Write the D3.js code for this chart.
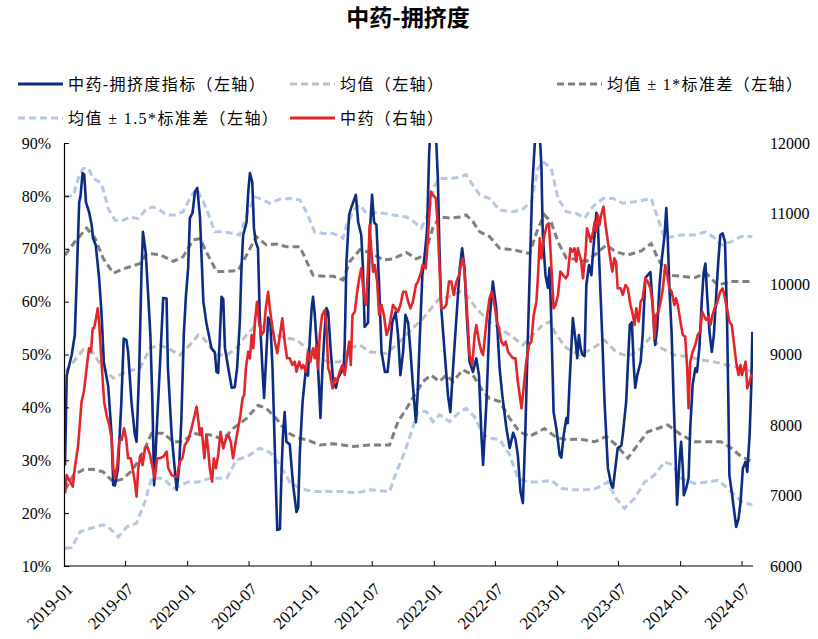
<!DOCTYPE html>
<html><head><meta charset="utf-8">
<script src="https://cdn.jsdelivr.net/npm/d3@7"></script>
<style>
body{margin:0;background:#fff;}
svg{display:block;font-family:"Liberation Serif","Noto Sans CJK SC",serif;}
</style></head><body>
<svg id="chart" width="818" height="639"></svg>
<script>
const chartTitle = "中药-拥挤度";
const legendLabels = ["中药-拥挤度指标（左轴）","均值（左轴）","均值 ± 1*标准差（左轴）","均值 ± 1.5*标准差（左轴）","中药（右轴）"];
const xTickLabels = ["2019-01","2019-07","2020-01","2020-07","2021-01","2021-07","2022-01","2022-07","2023-01","2023-07","2024-01","2024-07"];
const leftTicks = [10,20,30,40,50,60,70,80,90];
const rightTicks = [6000,7000,8000,9000,10000,11000,12000];

const crowding = [["2019-01-04",29],["2019-01-09",46],["2019-01-24",50],["2019-02-02",53.7],["2019-02-07",63],["2019-02-15",78.8],["2019-02-19",80],["2019-02-25",84.3],["2019-03-02",84],["2019-03-07",78.8],["2019-03-16",77],["2019-03-24",74.5],["2019-03-28",72],["2019-04-05",70.7],["2019-04-15",64.5],["2019-04-22",58],["2019-04-29",48.6],["2019-05-12",44],["2019-05-22",34.8],["2019-05-27",25.3],["2019-06-01",25.2],["2019-06-10",28.5],["2019-06-20",41],["2019-06-27",53],["2019-07-05",52.7],["2019-07-10",50.5],["2019-07-20",41],["2019-07-30",34.8],["2019-08-04",33.5],["2019-08-12",47.5],["2019-08-19",66.4],["2019-08-23",73.2],["2019-08-31",69.4],["2019-09-07",61.8],["2019-09-14",53.7],["2019-09-20",41],["2019-09-25",25.3],["2019-10-02",34.8],["2019-10-12",47.5],["2019-10-22",60.7],["2019-11-01",60.6],["2019-11-05",47.5],["2019-11-16",34.8],["2019-11-25",28.5],["2019-12-01",24.4],["2019-12-08",28.5],["2019-12-15",38],["2019-12-22",53.7],["2019-12-28",60.7],["2020-01-04",66.4],["2020-01-09",75.8],["2020-01-17",76.8],["2020-01-24",80.7],["2020-01-31",81.5],["2020-02-08",76],["2020-02-18",60],["2020-02-27",56],["2020-03-13",51.2],["2020-03-23",50.4],["2020-03-28",46.7],["2020-04-02",46.5],["2020-04-07",53.7],["2020-04-12",60.9],["2020-04-17",60.5],["2020-04-22",51.2],["2020-05-02",47.4],["2020-05-12",43.7],["2020-05-21",43.8],["2020-05-28",47.4],["2020-06-05",56],["2020-06-10",66.4],["2020-06-15",72.6],["2020-06-25",75],["2020-06-30",80.7],["2020-07-05",84.3],["2020-07-12",82.6],["2020-07-17",73.9],["2020-07-22",71.3],["2020-07-29",70.1],["2020-08-03",57.5],["2020-08-10",48.6],["2020-08-16",41.8],["2020-08-23",50.5],["2020-08-28",57],["2020-09-04",55.6],["2020-09-10",47.4],["2020-09-17",31.6],["2020-09-24",16.8],["2020-10-02",17],["2020-10-07",28.5],["2020-10-11",34.8],["2020-10-16",39.1],["2020-10-21",33.5],["2020-10-31",33],["2020-11-10",25.3],["2020-11-20",20.2],["2020-11-25",21],["2020-11-30",31.6],["2020-12-08",41],["2020-12-18",47.4],["2020-12-24",46],["2020-12-29",52.4],["2021-01-04",58.8],["2021-01-08",60.9],["2021-01-13",57.7],["2021-01-20",51],["2021-01-26",43.7],["2021-01-30",38],["2021-02-05",47.4],["2021-02-12",55],["2021-02-17",58.8],["2021-02-22",58],["2021-03-01",51.2],["2021-03-09",44.8],["2021-03-17",43.7],["2021-03-23",45.5],["2021-04-02",46.7],["2021-04-09",47.5],["2021-04-12",52],["2021-04-17",67.5],["2021-04-25",76.4],["2021-05-02",77.9],["2021-05-15",80.2],["2021-05-22",75],["2021-05-31",72.6],["2021-06-05",66.4],["2021-06-10",55.2],["2021-06-20",56],["2021-06-25",72.6],["2021-07-02",80.2],["2021-07-08",75],["2021-07-15",74.5],["2021-07-23",63.1],["2021-07-30",50.5],["2021-08-09",46.7],["2021-08-17",46.7],["2021-08-23",50.5],["2021-08-31",56.1],["2021-09-10",58],["2021-09-17",53.7],["2021-09-24",46.1],["2021-10-02",50.5],["2021-10-09",57.5],["2021-10-17",56],["2021-10-24",50.5],["2021-10-31",44.2],["2021-11-09",37.2],["2021-11-14",42.5],["2021-11-20",52.4],["2021-11-28",65],["2021-12-05",68.8],["2021-12-12",73.5],["2021-12-18",87.7],["2021-12-22",93],["2021-12-27",95],["2022-01-07",92],["2022-01-13",83.4],["2022-01-18",69.4],["2022-01-23",58.8],["2022-02-02",50.5],["2022-02-12",42.3],["2022-02-19",39.1],["2022-02-27",47.4],["2022-03-09",56.9],["2022-03-19",66.4],["2022-03-26",70.1],["2022-04-02",66.4],["2022-04-09",56.9],["2022-04-17",48.6],["2022-04-27",46.7],["2022-05-07",49.3],["2022-05-15",46],["2022-05-22",34.8],["2022-05-27",29.1],["2022-06-06",41],["2022-06-15",56.2],["2022-06-25",63.8],["2022-07-05",58.8],["2022-07-15",47.4],["2022-07-23",42.3],["2022-08-04",36.1],["2022-08-14",32.3],["2022-08-24",35.2],["2022-08-31",34],["2022-09-07",31],["2022-09-15",24],["2022-09-22",21.9],["2022-09-29",34.8],["2022-10-07",53.7],["2022-10-14",69.4],["2022-10-20",82],["2022-10-27",89.6],["2022-11-01",93],["2022-11-06",94],["2022-11-11",92],["2022-11-16",85.3],["2022-11-20",72.6],["2022-11-28",65],["2022-12-05",62.6],["2022-12-10",66.4],["2022-12-15",56.9],["2022-12-22",39.1],["2022-12-30",36.1],["2023-01-09",31],["2023-01-14",30.5],["2023-01-21",34.8],["2023-01-29",38],["2023-02-02",37],["2023-02-07",44.2],["2023-02-17",56.9],["2023-02-25",52.7],["2023-03-02",49.3],["2023-03-07",53.7],["2023-03-12",51.2],["2023-03-17",50],["2023-03-24",49.7],["2023-03-29",63.1],["2023-04-06",66.9],["2023-04-13",65],["2023-04-18",69.4],["2023-04-28",76.8],["2023-05-02",75.5],["2023-05-07",66.4],["2023-05-15",53.7],["2023-05-22",41],["2023-06-01",28.5],["2023-06-11",25.3],["2023-06-16",24.8],["2023-06-23",28.5],["2023-06-30",32.3],["2023-07-11",32.8],["2023-07-15",34.8],["2023-07-25",41],["2023-08-01",50.5],["2023-08-05",55.6],["2023-08-11",56.1],["2023-08-17",47.4],["2023-08-21",43.7],["2023-08-27",46.1],["2023-09-06",48.6],["2023-09-12",53.7],["2023-09-20",64.5],["2023-09-27",65],["2023-10-05",65.6],["2023-10-12",58.8],["2023-10-19",51.8],["2023-10-25",55],["2023-11-01",63.1],["2023-11-08",68.2],["2023-11-16",72.6],["2023-11-21",77.7],["2023-11-25",72.6],["2023-11-30",63.1],["2023-12-07",53.7],["2023-12-13",41],["2023-12-18",31.6],["2023-12-23",21.6],["2023-12-30",29.7],["2024-01-04",33.5],["2024-01-09",28.5],["2024-01-12",23.4],["2024-01-19",24.7],["2024-01-26",26.6],["2024-01-31",36.1],["2024-02-07",44.2],["2024-02-15",47.4],["2024-02-20",46.7],["2024-02-27",51.2],["2024-03-05",60],["2024-03-11",65.6],["2024-03-16",67.2],["2024-03-21",61.2],["2024-03-28",54.3],["2024-04-04",50.5],["2024-04-10",53.7],["2024-04-17",61.2],["2024-04-23",67.5],["2024-04-29",72.6],["2024-05-06",72.9],["2024-05-13",71.3],["2024-05-19",56.9],["2024-05-23",41],["2024-05-26",27.2],["2024-06-02",24],["2024-06-08",21],["2024-06-15",17.4],["2024-06-22",18.9],["2024-06-28",22],["2024-07-05",28.5],["2024-07-13",29.7],["2024-07-18",27.8],["2024-07-25",34.8],["2024-07-30",44.2],["2024-08-02",54.3]];

const price = [["2019-01-04",7031],["2019-01-09",7291],["2019-01-19",7196],["2019-01-27",7125],["2019-02-02",7386],["2019-02-12",7716],["2019-02-22",8331],["2019-03-01",8472],["2019-03-09",8804],["2019-03-16",9088],["2019-03-22",9040],["2019-03-27",9372],["2019-03-31",9372],["2019-04-06",9513],["2019-04-11",9655],["2019-04-15",9466],["2019-04-22",8898],["2019-04-30",8331],["2019-05-07",8142],["2019-05-15",8000],["2019-05-22",7811],["2019-05-27",7386],["2019-06-01",7244],["2019-06-08",7433],["2019-06-14",7787],["2019-06-21",7787],["2019-06-28",7953],["2019-07-04",7811],["2019-07-10",7528],["2019-07-18",7528],["2019-07-23",7386],["2019-07-30",7196],["2019-08-04",6983],["2019-08-09",7386],["2019-08-16",7575],["2019-08-22",7433],["2019-08-29",7669],["2019-09-05",7693],["2019-09-13",7575],["2019-09-21",7386],["2019-09-27",7244],["2019-10-04",7528],["2019-10-12",7528],["2019-10-22",7551],["2019-11-01",7622],["2019-11-06",7386],["2019-11-16",7291],["2019-11-26",7267],["2019-12-02",7267],["2019-12-10",7480],["2019-12-18",7528],["2019-12-25",7716],["2020-01-04",7787],["2020-01-14",7953],["2020-01-21",8095],["2020-01-29",8260],["2020-02-03",8071],["2020-02-08",7858],["2020-02-13",7953],["2020-02-21",7528],["2020-02-27",7858],["2020-03-03",7669],["2020-03-08",7386],["2020-03-15",7196],["2020-03-20",7528],["2020-03-26",7386],["2020-04-02",7575],["2020-04-09",7905],["2020-04-17",7669],["2020-04-25",7811],["2020-05-02",7858],["2020-05-09",7764],["2020-05-16",7528],["2020-05-24",7764],["2020-05-31",7953],["2020-06-07",8142],["2020-06-13",8379],["2020-06-18",8426],["2020-06-23",8804],["2020-06-30",9040],["2020-07-05",8946],["2020-07-10",9277],["2020-07-15",9088],["2020-07-20",9466],["2020-07-26",9749],["2020-08-01",9466],["2020-08-08",9277],["2020-08-15",9324],["2020-08-21",9655],["2020-08-28",9891],["2020-09-02",9655],["2020-09-10",9372],["2020-09-17",9182],["2020-09-24",9017],["2020-10-02",9277],["2020-10-09",9513],["2020-10-16",9182],["2020-10-23",8946],["2020-10-31",8946],["2020-11-08",8851],["2020-11-15",8898],["2020-11-20",8756],["2020-11-28",8898],["2020-12-05",8804],["2020-12-10",8851],["2020-12-18",8756],["2020-12-24",9040],["2020-12-31",8898],["2021-01-08",9088],["2021-01-13",8946],["2021-01-18",9135],["2021-01-23",8804],["2021-01-28",9277],["2021-02-04",9560],["2021-02-12",9631],["2021-02-17",9372],["2021-02-22",8804],["2021-02-26",8756],["2021-03-07",8520],["2021-03-14",8662],["2021-03-20",8615],["2021-03-28",8756],["2021-04-05",8851],["2021-04-12",8709],["2021-04-17",8898],["2021-04-25",9182],["2021-04-30",8851],["2021-05-05",9560],["2021-05-12",9607],["2021-05-19",9891],["2021-05-25",10081],["2021-05-31",10223],["2021-06-08",9844],["2021-06-14",9702],["2021-06-20",10223],["2021-06-25",10837],["2021-06-30",10459],["2021-07-05",10175],["2021-07-10",10270],["2021-07-17",10033],["2021-07-23",9560],["2021-07-30",9702],["2021-08-06",9560],["2021-08-14",9277],["2021-08-21",9372],["2021-08-28",9560],["2021-09-02",9702],["2021-09-09",9655],["2021-09-17",9607],["2021-09-24",9702],["2021-10-02",9891],["2021-10-10",9891],["2021-10-17",9749],["2021-10-24",9655],["2021-10-31",9749],["2021-11-09",9986],["2021-11-15",10033],["2021-11-22",10128],["2021-11-29",10270],["2021-12-08",10223],["2021-12-12",10459],["2021-12-18",10932],["2021-12-23",11310],["2021-12-30",11263],["2022-01-07",11216],["2022-01-12",10884],["2022-01-18",10223],["2022-01-23",9655],["2022-01-30",9655],["2022-02-07",9702],["2022-02-15",10033],["2022-02-22",10033],["2022-03-01",9844],["2022-03-09",10033],["2022-03-17",10128],["2022-03-24",10317],["2022-03-28",10364],["2022-04-02",10175],["2022-04-09",9655],["2022-04-17",8993],["2022-04-25",8851],["2022-05-02",9277],["2022-05-07",9419],["2022-05-15",9182],["2022-05-22",9040],["2022-05-27",8993],["2022-05-31",9182],["2022-06-07",9513],["2022-06-15",9797],["2022-06-22",9891],["2022-06-30",9702],["2022-07-07",9466],["2022-07-13",9372],["2022-07-20",9182],["2022-07-27",9135],["2022-08-02",9182],["2022-08-09",9040],["2022-08-16",8993],["2022-08-24",8946],["2022-08-31",8946],["2022-09-07",8614],["2022-09-18",8237],["2022-09-24",8520],["2022-10-02",8898],["2022-10-10",9135],["2022-10-17",9182],["2022-10-24",9560],["2022-11-01",9749],["2022-11-06",10128],["2022-11-11",10648],["2022-11-16",10364],["2022-11-20",10553],["2022-11-25",10695],["2022-12-02",10837],["2022-12-08",10860],["2022-12-13",10459],["2022-12-18",10033],["2022-12-22",9655],["2022-12-28",9702],["2023-01-04",9844],["2023-01-11",10175],["2023-01-19",10128],["2023-01-27",10081],["2023-02-02",10128],["2023-02-10",10506],["2023-02-15",10459],["2023-02-22",10506],["2023-02-27",10317],["2023-03-04",10506],["2023-03-09",10411],["2023-03-14",10317],["2023-03-19",10081],["2023-03-27",10459],["2023-03-31",10790],["2023-04-06",10695],["2023-04-11",10600],["2023-04-18",10742],["2023-04-23",10884],["2023-04-28",10742],["2023-05-02",10979],["2023-05-07",10837],["2023-05-12",10979],["2023-05-19",11097],["2023-05-25",10837],["2023-06-01",10600],["2023-06-08",10364],["2023-06-14",10175],["2023-06-20",10364],["2023-06-25",10317],["2023-06-30",9939],["2023-07-09",9939],["2023-07-15",9844],["2023-07-23",9986],["2023-07-30",9939],["2023-08-07",9702],["2023-08-14",9560],["2023-08-19",9418],["2023-08-24",9655],["2023-08-31",9466],["2023-09-06",9749],["2023-09-12",9797],["2023-09-20",10081],["2023-09-27",10033],["2023-10-05",9939],["2023-10-12",9702],["2023-10-17",9230],["2023-10-22",9560],["2023-10-29",9607],["2023-11-06",9797],["2023-11-11",9939],["2023-11-18",10270],["2023-11-24",10128],["2023-11-30",9939],["2023-12-07",9891],["2023-12-15",9702],["2023-12-20",9797],["2023-12-25",9702],["2024-01-02",9466],["2024-01-09",9277],["2024-01-16",9253],["2024-01-22",8804],["2024-01-26",8237],["2024-01-31",8898],["2024-02-07",9040],["2024-02-15",9135],["2024-02-22",9277],["2024-03-01",9324],["2024-03-06",9607],["2024-03-11",9560],["2024-03-18",9490],["2024-03-25",9537],["2024-03-31",9418],["2024-04-05",9537],["2024-04-12",9655],["2024-04-17",9702],["2024-04-23",9797],["2024-04-29",9891],["2024-05-06",9939],["2024-05-11",9844],["2024-05-19",9655],["2024-05-26",9466],["2024-06-02",9418],["2024-06-08",9182],["2024-06-15",8898],["2024-06-22",8709],["2024-06-28",8851],["2024-07-02",8709],["2024-07-08",8804],["2024-07-13",8898],["2024-07-18",8520],["2024-07-25",8615],["2024-07-30",8709],["2024-08-02",8685]];

const meanLine = [["2019-01-04",46.8],["2019-01-29",48.6],["2019-02-27",50.9],["2019-03-29",50.2],["2019-04-27",47.4],["2019-05-27",45.5],["2019-07-06",46.8],["2019-08-14",47.4],["2019-09-13",51.2],["2019-10-12",51.8],["2019-11-10",51],["2019-12-10",49.9],["2020-01-09",51.8],["2020-02-03",53.7],["2020-02-18",53.1],["2020-03-28",49.9],["2020-04-27",49.9],["2020-05-26",51.2],["2020-06-25",53.7],["2020-07-24",55.6],["2020-08-23",55],["2020-09-21",53.7],["2020-10-21",53.1],["2020-11-20",52.8],["2020-12-19",51.2],["2021-01-18",49.3],["2021-02-26",48.6],["2021-03-28",48.6],["2021-04-27",51.2],["2021-05-27",51.8],["2021-06-25",50.5],["2021-08-14",50.2],["2021-09-22",52.4],["2021-10-31",55],["2021-11-30",56.8],["2021-12-24",58.7],["2022-01-18",60.6],["2022-02-17",60.9],["2022-03-19",61.9],["2022-04-07",61.3],["2022-05-07",58.7],["2022-06-15",56.2],["2022-07-15",55],["2022-08-14",53.7],["2022-09-22",51.8],["2022-10-22",53.7],["2022-11-20",55.6],["2022-12-10",56.2],["2022-12-30",53.7],["2023-01-29",51.2],["2023-03-09",49.9],["2023-04-18",51.2],["2023-05-22",52.7],["2023-06-25",50.5],["2023-07-30",49.6],["2023-09-08",51.2],["2023-10-07",53.4],["2023-11-06",51.2],["2023-12-15",49.9],["2024-01-24",49.6],["2024-03-03",49],["2024-04-12",48.6],["2024-05-21",48],["2024-06-30",47.4],["2024-08-02",46.8]];

const plus1Std = [["2019-01-04",68.8],["2019-02-02",71.3],["2019-03-09",73.9],["2019-04-03",72],["2019-04-27",68.2],["2019-05-27",65.4],["2019-07-01",66.3],["2019-08-14",67.2],["2019-09-03",69.1],["2019-10-12",68.9],["2019-11-21",67.6],["2019-12-20",68.5],["2020-01-19",71.7],["2020-02-08",71.9],["2020-02-27",69.4],["2020-03-28",65.7],["2020-04-27",65.7],["2020-05-31",65.9],["2020-06-25",68.8],["2020-07-24",72.3],["2020-08-23",70.7],["2020-09-21",70.9],["2020-10-21",70.4],["2020-11-30",70.4],["2021-01-08",65],["2021-02-07",64.8],["2021-03-09",64.8],["2021-04-07",64.1],["2021-04-27",67.6],["2021-05-27",69.8],["2021-06-25",69.3],["2021-08-04",67.9],["2021-09-02",68.1],["2021-10-12",69.3],["2021-11-10",68.1],["2021-12-05",68.8],["2021-12-29",73.9],["2022-01-18",76],["2022-02-17",75.8],["2022-03-19",76],["2022-04-07",76.4],["2022-04-27",75.1],["2022-05-17",73.2],["2022-06-15",72.3],["2022-07-15",70.1],["2022-08-24",69.8],["2022-10-12",69.1],["2022-11-06",73.9],["2022-11-25",76.4],["2022-12-15",75],["2023-01-04",71.3],["2023-01-29",68.2],["2023-02-27",68],["2023-03-29",67.6],["2023-04-28",69.1],["2023-05-27",70.7],["2023-06-25",69.4],["2023-07-30",68.8],["2023-09-08",69.6],["2023-10-07",71],["2023-10-27",68.2],["2023-11-25",65],["2024-01-04",64.8],["2024-02-12",64.5],["2024-03-18",65.4],["2024-04-22",63.1],["2024-05-31",63.8],["2024-08-02",63.8]];

const minus1Std = [["2019-01-04",24.4],["2019-01-29",27.2],["2019-02-27",28.2],["2019-03-29",28.3],["2019-04-27",27.8],["2019-05-27",25.9],["2019-06-26",26.5],["2019-07-25",28.3],["2019-08-24",31.6],["2019-09-18",35.1],["2019-10-22",35.1],["2019-11-21",33.5],["2019-12-20",33.5],["2020-01-19",35.1],["2020-02-18",34.8],["2020-03-08",34.8],["2020-04-17",34],["2020-05-16",36],["2020-06-25",37.9],["2020-07-29",40.4],["2020-08-23",39.8],["2020-09-21",37.9],["2020-10-21",35.4],["2020-11-20",34.3],["2020-12-19",33.9],["2021-01-28",32.9],["2021-03-09",33.1],["2021-04-07",32.9],["2021-05-07",32.6],["2021-06-25",32.9],["2021-08-23",32.9],["2021-09-17",37.3],["2021-10-12",39.8],["2021-11-05",42.3],["2021-11-30",44.9],["2021-12-24",46.1],["2022-01-18",44.9],["2022-02-07",46.1],["2022-02-27",44.9],["2022-03-28",47.1],["2022-04-27",46.1],["2022-05-27",43],["2022-06-15",41.7],["2022-07-15",41.1],["2022-08-14",37.9],["2022-09-12",35.4],["2022-10-12",34.5],["2022-11-25",36],["2022-12-30",34.3],["2023-01-29",33.9],["2023-03-09",34],["2023-04-23",33.5],["2023-05-27",34.5],["2023-06-25",32.9],["2023-07-30",30.4],["2023-08-28",32.9],["2023-09-27",35.4],["2023-10-27",36],["2023-11-25",36.7],["2024-01-04",34.8],["2024-02-12",33.5],["2024-03-23",33.5],["2024-05-01",33.5],["2024-05-31",32.3],["2024-06-30",30.7],["2024-08-02",29.7]];

const plus15Std = [["2019-01-04",79.8],["2019-01-29",80],["2019-02-12",83.3],["2019-02-27",85.2],["2019-03-14",85.2],["2019-03-29",83.3],["2019-04-22",82.4],["2019-05-12",77.6],["2019-06-01",75.4],["2019-06-26",75.4],["2019-07-15",76],["2019-08-09",75.7],["2019-09-03",77.6],["2019-09-22",77.9],["2019-10-12",77.3],["2019-11-01",76.4],["2019-11-26",76.4],["2019-12-20",77],["2020-01-04",78.9],["2020-01-19",80.5],["2020-01-29",81.3],["2020-02-13",79.5],["2020-02-27",77.6],["2020-03-23",73.2],["2020-04-17",73.2],["2020-05-16",72.9],["2020-06-05",72.6],["2020-06-25",76.4],["2020-07-19",79.8],["2020-08-08",79.4],["2020-09-02",78.6],["2020-10-02",79.4],["2020-11-05",79.5],["2020-11-30",79.2],["2020-12-19",77],["2021-01-13",73.2],["2021-02-07",72.9],["2021-03-09",72.9],["2021-04-07",72],["2021-04-17",74.5],["2021-05-12",77.6],["2021-05-27",78.3],["2021-06-15",76.7],["2021-07-05",76.9],["2021-08-04",76.7],["2021-09-02",76.4],["2021-10-12",76],["2021-11-05",75],["2021-11-25",73.9],["2021-12-15",76.7],["2022-01-04",82],["2022-01-18",83.3],["2022-02-17",83.3],["2022-03-19",83.5],["2022-04-07",84],["2022-04-27",82],["2022-05-17",80.2],["2022-06-15",79.5],["2022-07-15",77.3],["2022-08-24",77],["2022-09-22",77.5],["2022-10-17",78.9],["2022-11-06",85.2],["2022-11-20",86.5],["2022-12-15",85.2],["2023-01-04",79.5],["2023-01-29",77],["2023-02-27",76.7],["2023-03-24",75.8],["2023-04-18",78],["2023-05-17",79.5],["2023-06-16",79.5],["2023-07-15",78.6],["2023-08-19",78.9],["2023-10-07",79.5],["2023-10-27",75.8],["2023-11-16",72],["2023-12-11",72.3],["2024-01-04",72.6],["2024-02-12",72.6],["2024-03-18",73.2],["2024-04-12",72],["2024-05-01",70.7],["2024-05-31",71.3],["2024-06-30",72.3],["2024-08-02",72.3]];

const minus15Std = [["2019-01-04",13.3],["2019-01-24",13.5],["2019-02-18",16.5],["2019-03-19",17.1],["2019-04-27",17.8],["2019-05-17",17.1],["2019-06-11",15.5],["2019-07-06",17.4],["2019-08-04",18.1],["2019-08-29",22.2],["2019-09-18",26.6],["2019-10-22",26.6],["2019-11-21",24.7],["2019-12-15",25.3],["2020-01-04",25.9],["2020-02-03",25.9],["2020-03-08",26.6],["2020-04-27",26.6],["2020-05-26",30],["2020-07-05",31],["2020-08-03",32.3],["2020-09-02",31.5],["2020-10-02",29.1],["2020-10-31",25.9],["2020-11-30",24.7],["2021-01-08",24.1],["2021-02-17",24.1],["2021-04-07",24.1],["2021-05-17",23.8],["2021-06-25",24.4],["2021-08-23",24.1],["2021-09-12",27.8],["2021-10-07",31.6],["2021-10-27",35.4],["2021-11-15",39.2],["2021-12-10",39.2],["2021-12-29",37.3],["2022-01-18",38.6],["2022-02-17",37.3],["2022-03-19",39.2],["2022-04-07",39.8],["2022-05-02",38.2],["2022-05-27",34.8],["2022-06-15",34.2],["2022-07-15",33.9],["2022-08-14",31],["2022-09-07",26.6],["2022-10-07",25.9],["2022-11-06",25.9],["2022-12-15",26.2],["2023-01-14",24.7],["2023-02-17",24.4],["2023-03-29",24.4],["2023-04-28",24.7],["2023-06-01",25.9],["2023-06-25",22.8],["2023-07-20",20.9],["2023-08-19",22.8],["2023-09-18",25.9],["2023-10-17",27.2],["2023-11-16",29.7],["2023-12-11",29.1],["2024-01-04",26.6],["2024-02-12",25.6],["2024-03-23",25.9],["2024-04-22",26.2],["2024-05-21",24.7],["2024-06-30",22.2],["2024-08-02",21.5]];

// ---------- drawing ----------
const svg = d3.select("#chart");
const W = 818, H = 639;
const M = {left:64, right:753, top:143, bottom:566};
const parse = d3.timeParse("%Y-%m-%d");
const parseM = d3.timeParse("%Y-%m");

const x = d3.scaleTime().domain([parse("2019-01-01"), parse("2024-08-04")]).range([M.left, M.right]);
const yL = d3.scaleLinear().domain([10,90]).range([M.bottom, M.top]);
const yR = d3.scaleLinear().domain([6000,12000]).range([M.bottom, M.top]);

const C = {blue:"#0c2c84", red:"#e3262a", mean:"#bfbfbf", std1:"#7f7f7f", std15:"#b4c7e7"};
const DASH = "7,4";

svg.append("rect").attr("width",W).attr("height",H).attr("fill","#fff");

// title
svg.append("text").attr("x",408).attr("y",26).attr("text-anchor","middle")
  .attr("font-family","'Noto Sans CJK SC'").attr("font-weight","bold").attr("font-size",23)
  .text(chartTitle);

// legend
const legend = [
  {label:legendLabels[0], color:C.blue, dash:null, x:18, y:84},
  {label:legendLabels[1], color:C.mean, dash:DASH, x:290, y:84},
  {label:legendLabels[2], color:C.std1, dash:DASH, x:557, y:84},
  {label:legendLabels[3], color:C.std15, dash:DASH, x:18, y:118},
  {label:legendLabels[4], color:C.red, dash:null, x:290, y:118}
];
const lg = svg.append("g");
legend.forEach(d=>{
  lg.append("line").attr("x1",d.x).attr("x2",d.x+45).attr("y1",d.y).attr("y2",d.y)
    .attr("stroke",d.color).attr("stroke-width",3).attr("stroke-dasharray",d.dash);
  lg.append("text").attr("x",d.x+50).attr("y",d.y).attr("dy","0.35em")
    .attr("font-size",16).attr("letter-spacing","1.4px").attr("fill","#000").text(d.label);
});

// clip
svg.append("clipPath").attr("id","plotclip").append("rect")
  .attr("x",M.left).attr("y",M.top).attr("width",M.right-M.left).attr("height",M.bottom-M.top);
const plot = svg.append("g").attr("clip-path","url(#plotclip)");

const lineL = d3.line().x(d=>x(parse(d[0]))).y(d=>yL(d[1]));
const lineR = d3.line().x(d=>x(parse(d[0]))).y(d=>yR(d[1]));

[[plus15Std,C.std15],[minus15Std,C.std15],[plus1Std,C.std1],[minus1Std,C.std1],[meanLine,C.mean]].forEach(([data,col])=>{
  plot.append("path").datum(data).attr("d",lineL).attr("fill","none")
    .attr("stroke",col).attr("stroke-width",3).attr("stroke-dasharray",DASH);
});
plot.append("path").datum(crowding).attr("d",lineL).attr("fill","none")
  .attr("stroke",C.blue).attr("stroke-width",2.6).attr("stroke-linejoin","round");
plot.append("path").datum(price).attr("d",lineR).attr("fill","none")
  .attr("stroke",C.red).attr("stroke-width",2.6).attr("stroke-linejoin","round");

// left axis
const axL = d3.axisLeft(yL).tickValues(leftTicks).tickSize(-5).tickPadding(13).tickFormat(d=>d+"%");
const gL = svg.append("g").attr("transform",`translate(${M.left},0)`).call(axL);
gL.select(".domain").attr("stroke","#000").attr("stroke-width",1.2);
gL.selectAll(".tick line").attr("stroke","#000");
gL.selectAll("text").attr("font-size",16).attr("font-family","'Liberation Serif'").attr("fill","#000");

// right axis (labels only)
const axR = d3.axisRight(yR).tickValues(rightTicks).tickSize(0).tickPadding(0).tickFormat(d3.format("d"));
const gR = svg.append("g").attr("transform",`translate(770,0)`).call(axR);
gR.select(".domain").remove();
gR.selectAll("text").attr("font-size",16).attr("font-family","'Liberation Serif'").attr("fill","#000");

// bottom axis
const xTicks = xTickLabels.map(s=>parseM(s));
const axB = d3.axisBottom(x).tickValues(xTicks).tickSize(-5).tickFormat(d3.timeFormat("%Y-%m"));
const gB = svg.append("g").attr("transform",`translate(0,${M.bottom})`).call(axB);
gB.select(".domain").attr("stroke","#000").attr("stroke-width",1.2).attr("d",`M${M.left},0H${M.right}`);
gB.selectAll(".tick line").attr("stroke","#000");
gB.selectAll("text").attr("font-size",17).attr("font-family","'Liberation Serif'").attr("fill","#000")
  .attr("text-anchor","end").attr("y",0).attr("dy","0.35em")
  .attr("transform","translate(5,20) rotate(-45)");
</script>
</body></html>
